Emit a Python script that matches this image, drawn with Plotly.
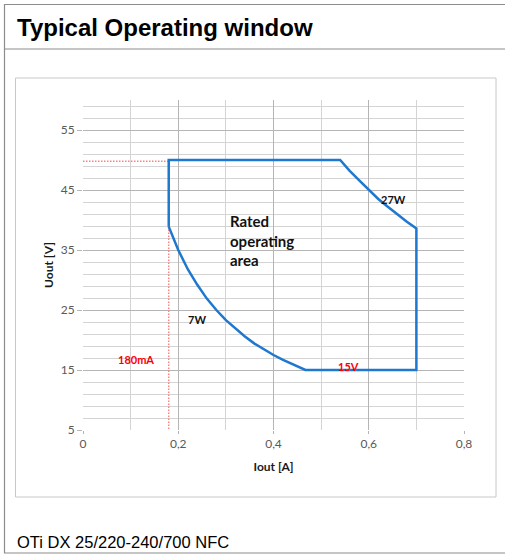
import plotly.graph_objects as go

# ---- data ----
# Operating window boundary: Iout [A] and Uout [V]
iout = [0.18, 0.18, 0.54, 0.56, 0.58, 0.60, 0.62, 0.64, 0.66, 0.68, 0.70, 0.70,
        0.467, 0.44, 0.42, 0.40, 0.38, 0.36, 0.34, 0.32, 0.30, 0.28, 0.26, 0.24,
        0.22, 0.20, 0.19, 0.18]
uout = [38.9, 50.0, 50.0, 48.2, 46.6, 45.0, 43.5, 42.2, 40.9, 39.7, 38.6, 15.0,
        15.0, 15.9, 16.7, 17.5, 18.4, 19.4, 20.6, 21.9, 23.3, 25.0, 26.9, 29.2,
        31.8, 35.0, 36.8, 38.9]

# red dotted helper lines (180 mA / max voltage)
hline_i = [0.0, 0.18]
hline_u = [49.8, 49.8]
vline_i = [0.18, 0.18]
vline_u = [38.9, 5.0]

# labels inside the plot
label_text = ["Rated<br>operating<br>area", "27W", "7W", "180mA", "15V"]
label_i = [0.305, 0.653, 0.240, 0.112, 0.557]
label_u = [36.6, 43.4, 23.4, 16.8, 15.6]
label_color = ["#111111", "#111111", "#111111", "#ff0000", "#ff0000"]
label_size = [15, 11, 11, 11, 11]

x_ticks = [0, 0.2, 0.4, 0.6, 0.8]
x_tick_text = ["0", "0,2", "0,4", "0,6", "0,8"]
y_ticks = [5, 15, 25, 35, 45, 55]

# ---- figure geometry (pixels) ----
W, H = 505, 554
L, R, T, B = 83, 464, 100, 430   # plot area edges in pixels


def px(x):
    return (x - L) / (R - L)


def py(y):
    return (B - y) / (B - T)


fig = go.Figure()

red_dash = dict(color="#ff8080", width=1.4, dash="1.5px,1.5px")
fig.add_trace(go.Scatter(x=hline_i, y=hline_u, mode="lines", line=red_dash,
                         hoverinfo="skip", showlegend=False))
fig.add_trace(go.Scatter(x=vline_i, y=vline_u, mode="lines", line=red_dash,
                         hoverinfo="skip", showlegend=False))
fig.add_trace(go.Scatter(x=iout, y=uout, mode="lines",
                         line=dict(color="#1f78cf", width=2.5),
                         showlegend=False))

for t, xi, yu, c, s in zip(label_text, label_i, label_u, label_color, label_size):
    fig.add_annotation(x=xi, y=yu, text="<b>%s</b>" % t, showarrow=False,
                       font=dict(family="Lato", size=s, color=c),
                       align="left",
                       xanchor="left" if "Rated" in t else "center",
                       yanchor="middle")

shapes = [
    # outer frame
    dict(type="rect", xref="paper", yref="paper",
         x0=px(4.5), x1=px(520), y0=py(4.5), y1=py(553),
         line=dict(color="#8c8c8c", width=1.2), layer="below"),
    # separator below title
    dict(type="line", xref="paper", yref="paper",
         x0=px(4.5), x1=px(520), y0=py(49), y1=py(49),
         line=dict(color="#8c8c8c", width=1.2), layer="below"),
    # inner chart box
    dict(type="rect", xref="paper", yref="paper",
         x0=px(15.5), x1=px(496), y0=py(78), y1=py(497),
         line=dict(color="#c8c8c8", width=1), layer="below"),
]

annots = [
    dict(text="<b>Typical Operating window</b>", x=px(15), y=py(28),
         xref="paper", yref="paper", xanchor="left", yanchor="middle",
         showarrow=False,
         font=dict(family="Liberation Sans", size=24, color="#000000")),
    dict(text="OTi DX 25/220-240/700 NFC", x=px(15), y=py(542),
         xref="paper", yref="paper", xanchor="left", yanchor="middle",
         showarrow=False,
         font=dict(family="Liberation Sans", size=16.5, color="#000000")),
]
for a in annots:
    fig.add_annotation(**a)

fig.update_layout(
    width=W, height=H, autosize=False,
    margin=dict(l=L, r=W - R, t=T, b=H - B, pad=0),
    paper_bgcolor="white", plot_bgcolor="white",
    shapes=shapes,
    font=dict(family="Lato", size=12, color="#595959"),
    xaxis=dict(range=[0, 0.8], tickvals=x_ticks, ticktext=x_tick_text,
               showgrid=True, gridcolor="#b5b5b5", gridwidth=1,
               minor=dict(dtick=0.1, tick0=0, showgrid=True,
                          gridcolor="#d4d4d4", gridwidth=1),
               zeroline=False, showline=False,
               ticks="outside", ticklen=3, tickcolor="#b5b5b5",
               tickfont=dict(size=12, color="#595959"),
               title=dict(text="<b>Iout [A]</b>", standoff=12,
                          font=dict(size=12, color="#1a1a1a"))),
    yaxis=dict(range=[5, 60], tickvals=y_ticks,
               showgrid=True, gridcolor="#b5b5b5", gridwidth=1,
               minor=dict(dtick=2, tick0=5, showgrid=True,
                          gridcolor="#d4d4d4", gridwidth=1),
               zeroline=False, showline=False,
               ticks="outside", ticklen=5, tickcolor="#b5b5b5",
               tickfont=dict(size=12, color="#595959"),
               title=dict(text="<b>Uout [V]</b>", standoff=4,
                          font=dict(size=12, color="#1a1a1a"))),
)

fig.write_html("out.html", config={"displayModeBar": False},
               post_script="document.body.style.margin='0';"
                           "document.body.style.padding='0';")
